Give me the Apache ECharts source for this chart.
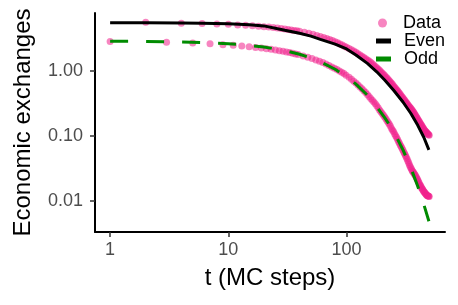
<!DOCTYPE html>
<html>
<head>
<meta charset="utf-8">
<script src="https://cdn.jsdelivr.net/npm/echarts@6/dist/echarts.min.js"></script>
<style>html,body{margin:0;padding:0;background:#fff}#c{width:458px;height:305px}</style>
</head>
<body>
<div id="c"></div>
<script>
// ---- data ----
const evenTimes = [2,4,6,8,10,12,14,16,18,20,22,24,26,28,30,32,34,36,38,40,44,48,52,56,60,64,68,72,76,80,84,88,92,96,100,105,110,115,120,125,130,135,140,145,150,155,160,165,170,175,180,185,190,195,200,205,210,215,220,225,230,235,240,245,250,255,260,265,270,275,280,285,290,295,300,305,310,315,320,325,330,335,340,345,350,355,360,365,370,375,380,385,390,395,400,405,410,415,420,425,430,435,440,445,450,455,460,465,470,475,480,485,490,495,500];
const evenValues = [5.50,5.35,5.30,5.20,5.12,5.02,4.95,4.88,4.80,4.72,4.65,4.58,4.50,4.43,4.36,4.28,4.21,4.14,4.07,4.00,3.86,3.73,3.60,3.47,3.35,3.23,3.12,3.01,2.90,2.78,2.67,2.57,2.47,2.37,2.28,2.18,2.09,2.00,1.91,1.82,1.74,1.66,1.59,1.52,1.46,1.40,1.34,1.28,1.22,1.16,1.11,1.06,1.01,0.96,0.92,0.88,0.84,0.80,0.77,0.73,0.70,0.67,0.64,0.61,0.58,0.555,0.53,0.51,0.49,0.47,0.45,0.43,0.41,0.395,0.38,0.365,0.35,0.337,0.325,0.312,0.30,0.29,0.28,0.271,0.262,0.253,0.245,0.236,0.227,0.218,0.21,0.202,0.195,0.187,0.18,0.173,0.167,0.161,0.155,0.15,0.145,0.14,0.135,0.131,0.127,0.123,0.12,0.117,0.115,0.112,0.11,0.108,0.106,0.104,0.102];
const oddTimes = [1,3,5,7,9,11,13,15,17,19,21,23,25,27,29,31,33,35,37,39,43,47,51,55,59,63,67,71,75,79,83,87,91,95,99,105,110,115,120,125,130,135,140,145,150,155,160,165,170,175,180,185,190,195,200,205,210,215,220,225,230,235,240,245,250,255,260,265,270,275,280,285,290,295,300,305,310,315,320,325,330,335,340,345,350,355,360,365,370,375,380,385,390,395,400,405,410,415,420,425,430,435,440,445,450,455,460,465,470,475,480,485,490,495,500];
const oddValues = [2.80,2.72,2.65,2.58,2.50,2.45,2.39,2.33,2.27,2.22,2.17,2.12,2.07,2.02,1.98,1.93,1.89,1.84,1.80,1.76,1.68,1.60,1.53,1.46,1.39,1.33,1.26,1.20,1.14,1.09,1.04,0.99,0.94,0.90,0.85,0.79,0.74,0.69,0.645,0.60,0.56,0.525,0.49,0.46,0.43,0.40,0.375,0.35,0.33,0.31,0.29,0.27,0.25,0.235,0.22,0.207,0.195,0.182,0.17,0.16,0.15,0.14,0.13,0.122,0.115,0.107,0.10,0.094,0.088,0.082,0.077,0.072,0.068,0.064,0.06,0.056,0.053,0.050,0.047,0.044,0.041,0.0385,0.036,0.034,0.032,0.0305,0.029,0.028,0.027,0.026,0.025,0.024,0.023,0.022,0.021,0.020,0.019,0.018,0.0175,0.0168,0.016,0.0155,0.015,0.0145,0.014,0.0137,0.0133,0.013,0.0127,0.0124,0.0122,0.012,0.0119,0.0118,0.0117];
const fitTimes = [1,2,4,6,10,15,20,30,40,50,60,80,100,120,150,180,210,250,300,350,400,450,497];
const evenFit = [5.43,5.41,5.37,5.32,5.22,5.05,4.85,4.15,3.74,3.38,3.02,2.55,2.15,1.74,1.29,0.96,0.72,0.50,0.33,0.22,0.145,0.095,0.061];
const oddFit = [2.82,2.80,2.75,2.69,2.58,2.44,2.30,2.03,1.78,1.56,1.37,1.05,0.81,0.62,0.42,0.28,0.19,0.117,0.061,0.032,0.0168,0.0089,0.0049];
const xTicks = [1,10,100];
const yTicks = [0.01,0.1,1];
const legendNames = ['Data','Even','Odd'];
const xTitle = 't (MC steps)';
const yTitle = 'Economic exchanges';

const zip = (a,b) => a.map((v,i) => [v,b[i]]);
const scatterData = zip(evenTimes, evenValues).concat(zip(oddTimes, oddValues));

const FONT = 'Liberation Sans, Arial, Helvetica, sans-serif';
const chart = echarts.init(document.getElementById('c'), null, {renderer:'canvas'});
const legendText = (pad) => ({fontSize:18, color:'#000', fontFamily:FONT, padding:[0,0,0,pad]});
chart.setOption({
  animation:false,
  backgroundColor:'#fff',
  grid:{left:95, right:13, top:13, bottom:73, containLabel:false},
  legend:[
    {data:[{name:legendNames[0], icon:'circle'}], left:373, top:9, itemWidth:9, itemHeight:9, textStyle:legendText(11), selectedMode:false},
    {data:[{name:legendNames[1], icon:'rect'}], left:371, top:27, itemWidth:15, itemHeight:5, textStyle:legendText(8), selectedMode:false},
    {data:[{name:legendNames[2], icon:'rect'}], left:371, top:45, itemWidth:15, itemHeight:5, textStyle:legendText(8), selectedMode:false}
  ],
  xAxis:{
    type:'log', logBase:10, min:0.745, max:680,
    name:xTitle, nameLocation:'middle', nameGap:34,
    nameTextStyle:{fontSize:24, color:'#000', fontFamily:FONT},
    axisLine:{show:true, lineStyle:{color:'#000', width:2}},
    axisTick:{show:true, length:5, lineStyle:{color:'#333', width:1.5}, customValues:xTicks},
    axisLabel:{fontSize:18, color:'#4d4d4d', fontFamily:FONT, margin:9, customValues:xTicks, formatter:v => String(Math.round(v))},
    splitLine:{show:false}
  },
  yAxis:{
    type:'log', logBase:10, min:0.00335, max:7.65,
    name:yTitle, nameLocation:'middle', nameGap:60, nameRotate:90,
    nameTextStyle:{fontSize:24, color:'#000', fontFamily:FONT},
    axisLine:{show:true, lineStyle:{color:'#000', width:2}},
    axisTick:{show:true, length:5, lineStyle:{color:'#333', width:1.5}, customValues:yTicks},
    axisLabel:{fontSize:18, color:'#4d4d4d', fontFamily:FONT, margin:12, customValues:yTicks, formatter:v => v.toFixed(2)},
    splitLine:{show:false}
  },
  series:[
    {name:legendNames[0], type:'scatter', data:scatterData, symbol:'circle', symbolSize:7,
     itemStyle:{color:'#F0208C', opacity:0.55}, z:2},
    {name:legendNames[1], type:'line', data:zip(fitTimes, evenFit), showSymbol:false, symbol:'none', smooth:false,
     itemStyle:{color:'#000'}, lineStyle:{color:'#000', width:3}, z:3},
    {name:legendNames[2], type:'line', data:zip(fitTimes, oddFit), showSymbol:false, symbol:'none', smooth:false,
     itemStyle:{color:'#008B00'}, lineStyle:{color:'#008B00', width:3, type:[18,18], cap:'butt'}, z:4}
  ]
});
</script>
</body>
</html>
